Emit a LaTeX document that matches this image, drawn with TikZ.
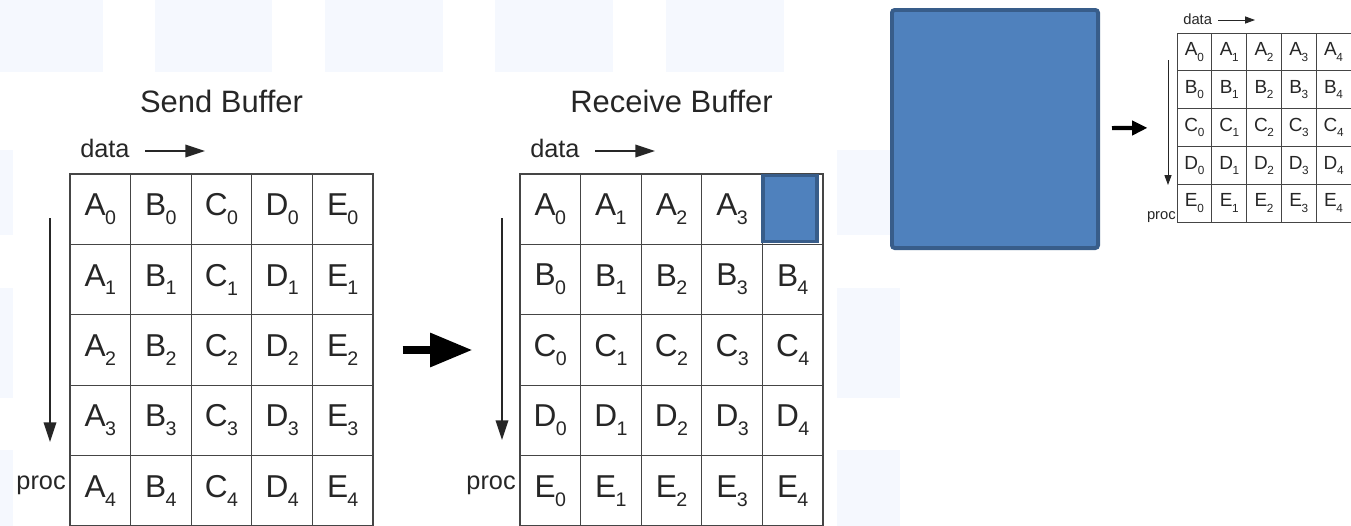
\documentclass[tikz,border=0pt]{standalone}
\usepackage{fontspec}
\setmainfont{Liberation Sans}
\usetikzlibrary{arrows.meta, positioning}

\definecolor{cellblue}{HTML}{4F81BD}
\definecolor{edgeblue}{HTML}{385D8A}
\definecolor{tileblue}{HTML}{F5F8FE}
\definecolor{gridgray}{HTML}{454545}

% letter with a lowered index
\newcommand{\entry}[2]{#1\kern-0.02em\raisebox{-0.28em}{\scalebox{0.62}{#2}}}

\begin{document}
\begin{tikzpicture}[
    x=0.025cm, y=-0.025cm,
    cell/.style={
        draw=gridgray,
        line width=0.8pt,
        minimum width=1.515cm,
        minimum height=1.76cm,
        inner sep=0pt,
        text=black!85,
        font=\fontsize{22.5}{22.5}\selectfont
    },
    smallcell/.style={
        draw=gridgray,
        line width=0.6pt,
        minimum width=0.87cm,
        minimum height=0.945cm,
        inner sep=0pt,
        text=black!85,
        font=\fontsize{13.5}{13.5}\selectfont
    },
    title/.style={font=\fontsize{22}{22}\selectfont, text=black!85, inner sep=0pt},
    axis/.style={font=\fontsize{18}{18}\selectfont, text=black!85, inner sep=0pt},
    smallaxis/.style={font=\fontsize{10.5}{10.5}\selectfont, text=black!85, inner sep=0pt},
    thinarrow/.style={-{Triangle[length=14pt,width=9pt]}, line width=1pt, black!85},
    smallthinarrow/.style={-{Triangle[length=7pt,width=5pt]}, line width=0.6pt, black!85},
    bigarrow/.style={-{Triangle[length=30pt,width=23pt]}, line width=5.5pt},
    smallbigarrow/.style={-{Triangle[length=11pt,width=10pt]}, line width=3pt},
    blankcell/.style={fill=cellblue, draw=edgeblue, line width=2.5pt, minimum width=1.36cm, minimum height=1.64cm},
    bluebox/.style={fill=cellblue, draw=edgeblue, line width=2.8pt, rounded corners=2pt, minimum width=5.15cm, minimum height=5.95cm},
    tile/.style={fill=tileblue, draw=none}
]

\useasboundingbox (0,0) rectangle (1351,526);

% faint background tiles
\foreach \xa/\xb in {0/103,155/272,325/443,495/613,666/784}
    \fill[tile] (\xa,0) rectangle (\xb,72);
\foreach \ya/\yb in {150/235,288/398,450/526} {
    \fill[tile] (0,\ya) rectangle (13,\yb);
    \fill[tile] (837,\ya) rectangle (900,\yb);
}

% send buffer
\node[title, anchor=base] (sendtitle) at (221.5,112) {Send Buffer};
\foreach \l [count=\j from 0] in {A,B,C,D,E} {
    \foreach \i in {0,...,4} {
        \node[cell] (s-\i-\j) at ({70+60.6*(\j+0.5)},{174+70.4*(\i+0.5)}) {\entry{\l}{\i}};
    }
}
\node[axis, anchor=base west] (sdata) at (80,157) {data};
\coordinate (sdatastart) at (145,151);
\coordinate (sdataend) at (205,151);
\draw[thinarrow] (sdatastart) -- (sdataend);
\node[axis, anchor=base east] (sproc) at (66,489) {proc};
\coordinate (sproctop) at (50,218);
\coordinate (sprocbot) at (50,442);
\draw[thinarrow] (sproctop) -- (sprocbot);

% receive buffer
\node[title, anchor=base] (recvtitle) at (671.5,112) {Receive Buffer};
\foreach \l [count=\j from 0] in {A,B,C,D,E} {
    \foreach \i in {0,...,4} {
        \pgfmathtruncatemacro{\blank}{(\j==0)&&(\i==4)}
        \ifnum\blank=1
            \node[cell] (r-\j-\i) at ({520+60.6*(\i+0.5)},{174+70.4*(\j+0.5)}) {};
        \else
            \node[cell] (r-\j-\i) at ({520+60.6*(\i+0.5)},{174+70.4*(\j+0.5)}) {\entry{\l}{\i}};
        \fi
    }
}
\node[blankcell] (gap) at (790,208.5) {};
\node[axis, anchor=base west] (rdata) at (530,157) {data};
\coordinate (rdatastart) at (595,151);
\coordinate (rdataend) at (655,151);
\draw[thinarrow] (rdatastart) -- (rdataend);
\node[axis, anchor=base east] (rproc) at (516,489) {proc};
\coordinate (rproctop) at (502,218);
\coordinate (rprocbot) at (502,440);
\draw[thinarrow] (rproctop) -- (rprocbot);

\draw[bigarrow, shorten <=0.725cm, shorten >=1.175cm] (s-2-4) -- (r-2-0);

% covered block and small result
\node[bluebox] (block) at (995,129) {};
\foreach \l [count=\j from 0] in {A,B,C,D,E} {
    \foreach \i in {0,...,4} {
        \node[smallcell] (m-\j-\i) at ({1177+34.8*(\i+0.5)},{33+37.8*(\j+0.5)}) {\entry{\l}{\i}};
    }
}
\node[smallaxis, anchor=base west] (mdata) at (1183,24) {data};
\coordinate (mdatastart) at (1218,20);
\coordinate (mdataend) at (1255,20);
\draw[smallthinarrow] (mdatastart) -- (mdataend);
\node[smallaxis, anchor=base east] (mproc) at (1176,219) {proc};
\coordinate (mproctop) at (1168,60);
\coordinate (mprocbot) at (1168,185);
\draw[smallthinarrow] (mproctop) -- (mprocbot);

\draw[smallbigarrow, shorten <=0.3cm, shorten >=0.725cm] (block) -- (m-2-0);

\end{tikzpicture}
\end{document}
